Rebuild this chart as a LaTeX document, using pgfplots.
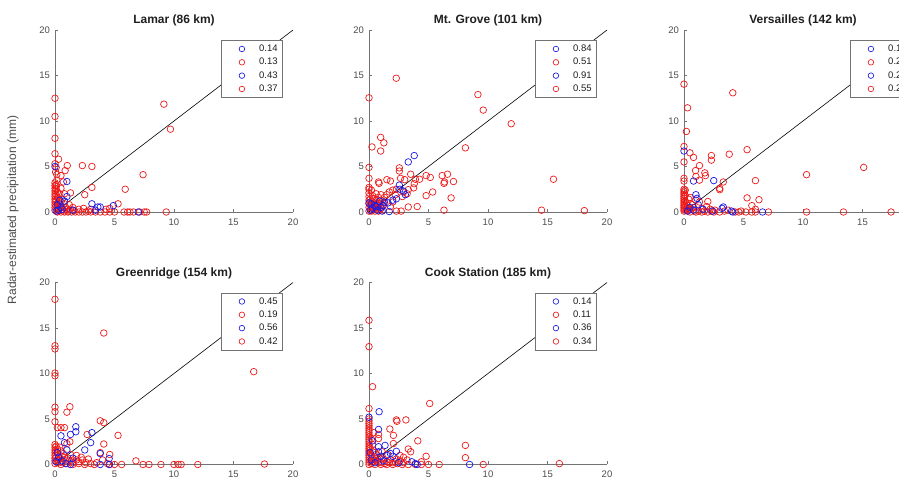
\documentclass[border=0pt]{standalone}
\usepackage{fontspec}
\setmainfont{Liberation Sans}
\usepackage{pgfplots}
\pgfplotsset{compat=1.18}
\definecolor{axgray}{gray}{0.45}
\definecolor{txtgray}{gray}{0.3}
\definecolor{ttl}{gray}{0.12}
\definecolor{mred}{rgb}{0.93,0.1,0.1}
\definecolor{mblue}{rgb}{0.1,0.1,0.9}
\pgfplotsset{
  mat/.style={
    scale only axis, width=238pt, height=182pt,
    anchor=south west,
    xmin=0, xmax=20, ymin=0, ymax=20, enlargelimits=false, clip=false,
    axis x line*=bottom, axis y line*=left,
    axis line style={draw=axgray, line width=0.6pt},
    xtick={0,5,10,15,20}, ytick={0,5,10,15,20},
    tick align=inside, major tick length=3pt,
    every tick/.style={axgray, line width=0.6pt},
    ticklabel style={font=\fontsize{9.5}{11}\selectfont, text=txtgray},
    /pgf/number format/assume math mode=true,
    xticklabel style={yshift=-3pt},
    yticklabel style={xshift=-1.5pt},
    title style={font=\bfseries\fontsize{12}{14}\selectfont, text=ttl, at={(0.5,1)}, anchor=south, yshift=-6pt},
    legend style={at={(0.958,0.945)}, anchor=north east, draw=axgray, line width=0.6pt, fill=white,
      font=\fontsize{9.5}{11}\selectfont, text=ttl, inner xsep=2pt, inner ysep=2pt,
      nodes={inner xsep=3pt, inner ysep=2.6pt, text depth=0.15em}, row sep=0pt, column sep=0pt},
    legend cell align=left,
  },
  rp/.style={only marks, mark=o, mark size=3.3pt, mred, mark options={line width=0.7pt}, forget plot},
  bp/.style={only marks, mark=o, mark size=3.3pt, mblue, mark options={line width=0.7pt}, forget plot},
  oneone/.style={black, line width=0.6pt, forget plot},
  limg/.style={only marks, mark=o, mark size=2.8pt, mark options={line width=0.65pt},
     legend image code/.code={\draw[##1] plot coordinates {(0pt,0pt)}; \path (-18pt,0pt) (14pt,0pt);}},
}
\begin{document}
\begin{tikzpicture}
% ---------------- Lamar
\begin{axis}[mat, at={(55pt,272pt)}, title={Lamar (86 km)}]
\addplot[oneone] coordinates {(0,0) (20,20)};
\addplot[rp] coordinates {(0,12.5)(0,10.5)(0,8.1)(0,6.4)(0.3,5.8)(0,5.3)(0.1,4.9)(0.15,4.1)(0.5,4.0)(0.85,4.55)(1.03,5.1)(2.3,5.1)(3.1,5.0)(3.1,2.7)(2.5,1.9)(1.3,2.1)(9.15,11.85)(9.7,9.1)(7.4,4.1)(5.9,2.5)(5.3,0.9)
(0,3.2)(0,2.9)(0,2.6)(0,2.3)(0,2.0)(0,1.7)(0,1.4)(0,1.1)(0,0.8)(0,0.5)(0,0.2)(0.1,3.0)(0.1,2.5)(0.1,1.9)(0.1,1.3)(0.1,0.7)(0.2,2.2)(0.3,1.5)(0.3,0.9)(0.3,0.3)(0.5,2.6)(0.5,1.1)(0.6,0.5)(0.8,0.9)(1.0,0.3)(1.2,0.8)(0.8,2.0)(1.5,0.5)(2.0,0.3)(2.4,0.4)(3.0,0.3)(4.3,0.3)(4.6,0.4)(0.7,3.3)
(0.2,0)(0.5,0)(0.8,0)(1.1,0)(1.4,0)(1.7,0)(2.0,0)(2.3,0)(2.6,0)(3.0,0)(3.4,0)(3.8,0)(4.2,0)(4.6,0)(5.0,0)(5.8,0)(6.1,0)(6.3,0)(6.6,0)(7.1,0)(7.5,0)(7.7,0)(9.35,0)(1.6,0.15)(2.8,0.1)
(0.2,0.1)(0.4,0.6)(0.5,0.2)(0.7,0.1)(0.9,0.5)(0.2,1.6)(0.4,2.0)(0.1,2.8)(0.2,0.4)(0.6,1.4)(0.3,1.2)(1.1,0.1)(1.3,0.3)(0.15,3.5)(0.05,4.4)};
\addplot[bp] coordinates {(0,5.0)(1.0,3.35)(1.0,1.7)(0.8,1.2)(3.1,0.9)(3.6,0.55)(3.8,0.55)(4.9,0.7)(7.0,0)(0.5,0.5)(0.3,0.2)(0.2,0.8)(0.6,0.3)(1.5,0.2)(0.1,0.1)(0.4,1.3)(3.4,0.2)};
\addlegendimage{limg, mblue}\addlegendentry{0.14}
\addlegendimage{limg, mred}\addlegendentry{0.13}
\addlegendimage{limg, mblue}\addlegendentry{0.43}
\addlegendimage{limg, mred}\addlegendentry{0.37}
\end{axis}
% ---------------- Mt. Grove
\begin{axis}[mat, at={(369pt,272pt)}, title={Mt. Grove (101 km)}]
\addplot[oneone] coordinates {(0,0) (20,20)};
\addplot[rp] coordinates {(0,12.55)(2.29,14.7)(0.25,7.15)(0.98,8.2)(1.25,7.6)(0.98,6.7)(0,4.9)(0,3.7)(0,2.7)(0,2.5)(0,2.1)(0,1.7)(0,1.3)(0,0.9)(0,0.5)(0,0.1)
(0.8,3.3)(0.85,3.15)(1.5,3.55)(1.8,3.4)(2.55,4.85)(2.55,4.5)(2.65,3.7)(3.0,3.55)(3.5,4.15)(3.9,3.6)(3.8,3.1)(4.25,3.6)(4.8,4.0)(5.15,3.8)(4.8,1.8)(5.35,2.2)(6.15,4.0)(6.6,4.15)(6.3,3.15)(6.35,3.3)(7.1,3.35)(6.9,1.55)(8.1,7.05)(9.15,12.9)(9.6,11.2)(11.95,9.7)(15.5,3.6)(14.5,0.2)(18.1,0.15)(6.3,0.2)(4.05,0.6)(3.3,0.55)(2.3,0.1)(2.7,0.1)(3.75,2.65)(3.3,2.45)(2.9,2.2)(3.2,2.0)(2.3,2.5)(2.0,2.4)(1.7,2.2)(1.5,1.9)(2.2,1.9)(2.8,1.7)(1.8,0.6)(2.0,1.1)
(0.2,0.5)(0.4,0.3)(0.5,0.8)(0.7,0.5)(0.9,0.9)(1.0,0.4)(0.3,1.1)(0.6,1.3)(0.8,1.6)(1.1,1.2)(1.2,0.2)(0.5,0.1)(0.8,0.1)(0.3,1.8)(0.6,2.0)(1.0,1.9)(1.3,1.6)(0.2,2.4)(0.4,1.5)(0.1,0.8)(0.15,0.2)
(0.3,0.6)(0.6,0.3)(0.9,0.2)(1.1,0.7)(0.4,0.9)(0.7,1.0)(1.0,1.3)(1.2,1.0)(0.1,1.4)(0.2,0.1)(0.5,0.5)(0.8,0.7)};
\addplot[bp] coordinates {(3.8,6.2)(3.3,5.5)(2.55,2.95)(2.9,2.3)(3.05,1.9)(2.3,1.45)(2.0,1.3)(1.6,1.0)(1.2,0.7)(1.7,0.05)(0.9,1.2)(0,1.0)(0.3,0.4)(0.5,0.7)(0.7,0.2)(1.0,0.5)(0.2,0.9)(1.3,1.1)(0.6,0.6)(2.6,2.5)(0.1,0.2)(1.1,0.1)};
\addlegendimage{limg, mblue}\addlegendentry{0.84}
\addlegendimage{limg, mred}\addlegendentry{0.51}
\addlegendimage{limg, mblue}\addlegendentry{0.91}
\addlegendimage{limg, mred}\addlegendentry{0.55}
\end{axis}
% ---------------- Versailles
\begin{axis}[mat, at={(684pt,272pt)}, title={Versailles (142 km)}]
\addplot[oneone] coordinates {(0,0) (20,20)};
\addplot[rp] coordinates {(0,14.05)(0.3,11.45)(0.2,8.85)(0,7.2)(0,5.5)(0,3.7)(0,3.4)(0,2.5)(0,2.3)(0,2.1)(0,1.9)(0,1.7)(0,1.5)(0,1.3)(0,1.1)(0,0.9)(0,0.7)(0,0.5)(0,0.3)(0,0.1)(0.1,2.4)(0.1,1.8)(0.1,1.2)(0.1,0.6)
(0.5,6.5)(0.8,6.0)(1.3,5.1)(0.97,4.55)(1.75,4.3)(1.8,4.0)(1.0,3.9)(1.3,3.5)(2.3,6.2)(2.3,5.7)(3.8,6.35)(4.1,13.1)(5.3,6.85)(3.3,3.3)(3.0,2.6)(3.0,2.45)(6.0,3.45)(5.3,1.55)(6.3,1.35)(2.0,1.15)(10.3,4.1)(15.1,4.9)
(7.1,0)(10.3,0)(13.4,0)(17.4,0)(5.7,0.7)(6.0,0.3)(5.7,0)(6.0,0)(5.2,0)(4.6,0)(4.3,0)(3.7,0.2)(3.0,0)(2.5,0)(2.0,0)(1.5,0)(1.0,0)(0.5,0)(0.4,0.2)(1.2,0.1)(2.2,0.3)(4.8,0.1)(0.7,0.8)(1.0,1.3)(1.5,0.4)(1.3,1.1)(1.9,0.6)(2.6,0.2)(0.5,1.6)(0.3,0.4)(3.4,0.1)
(0.2,0.2)(0.3,0.7)(0.6,0.3)(0.8,0.5)(0.2,1.0)(0.4,1.4)(0.9,0.1)(1.7,0.1)(2.3,0.1)(0.1,0.2)};
\addplot[bp] coordinates {(0,6.7)(0.8,3.4)(2.5,3.45)(1.0,1.9)(1.1,1.5)(3.3,0.55)(4.1,0)(4.0,0.1)(6.6,0)(2.4,0.1)(0.5,0.5)(0.8,0.2)(1.2,0.8)(0.3,0.1)(1.6,0.3)(3.2,0.4)};
\addlegendimage{limg, mblue}\addlegendentry{0.19}
\addlegendimage{limg, mred}\addlegendentry{0.22}
\addlegendimage{limg, mblue}\addlegendentry{0.29}
\addlegendimage{limg, mred}\addlegendentry{0.27}
\end{axis}
% ---------------- Greenridge
\begin{axis}[mat, at={(55pt,19.5pt)}, title={Greenridge (154 km)}]
\addplot[oneone] coordinates {(0,0) (20,20)};
\addplot[rp] coordinates {(0,18.15)(0,13.05)(0,12.7)(0,10.05)(0,9.75)(0,6.3)(0,5.8)(0,4.7)(0.2,4.05)(0.5,4.05)(0.8,4.05)(1.0,5.75)(1.25,6.35)(1.25,2.5)(1.0,2.3)(0.5,1.5)(3.8,4.8)(4.1,4.6)(4.1,14.45)(5.3,3.2)(2.7,3.3)(4.1,2.25)(3.8,1.3)(4.6,1.1)(16.7,10.2)(17.6,0.05)(12.0,0)(10.6,0)(10.35,0)(10.0,0)(8.9,0)(7.9,0)(7.4,0)(6.8,0.4)(5.6,0)(5.0,0)(4.6,0)(2.3,0.5)
(0,2.2)(0,1.9)(0,1.6)(0,1.3)(0,1.0)(0,0.7)(0,0.4)(0,0.1)(0.1,2.0)(0.1,1.4)(0.1,0.8)(0.3,0.5)(0.6,0.2)(0.8,0.8)(1.2,0.4)(1.5,0.2)(1.8,0.5)(2.0,0.3)(2.6,0.2)(3.0,0.1)(3.5,0.2)(4.0,0.5)(1.3,1.1)(0.7,1.2)(2.2,0.8)(1.0,0.1)(0.4,1.9)(1.8,1.0)(2.8,0.6)(4.4,0.1)(0.5,0)(1.5,0)(2.5,0)(3.3,0)
(0.2,0.2)(0.4,0.7)(0.5,0.3)(0.9,0.4)(0.3,1.1)(0.6,0.9)(1.1,0.7)(0.2,1.7)(1.4,0.4)(2.0,0.1)};
\addplot[bp] coordinates {(1.75,4.15)(1.75,3.6)(1.3,3.3)(0.5,3.15)(3.1,3.5)(3.0,2.4)(2.5,1.6)(3.8,1.2)(4.55,0.65)(3.8,0)(4.55,0)(0.8,2.4)(1.3,0)(0.3,0.8)(0.6,0.4)(1.0,1.6)(0.2,1.3)(1.5,0.7)(0.9,0.1)(0.1,0.3)};
\addlegendimage{limg, mblue}\addlegendentry{0.45}
\addlegendimage{limg, mred}\addlegendentry{0.19}
\addlegendimage{limg, mblue}\addlegendentry{0.56}
\addlegendimage{limg, mred}\addlegendentry{0.42}
\end{axis}
% ---------------- Cook Station
\begin{axis}[mat, at={(369pt,19.5pt)}, title={Cook Station (185 km)}]
\addplot[oneone] coordinates {(0,0) (20,20)};
\addplot[rp] coordinates {(0,15.85)(0,12.95)(0.3,8.55)(0,6.15)(0,5.0)(0,4.75)(0,4.5)(0,4.25)(0,4.0)(0,3.75)(0,3.5)(0,3.25)(0,3.0)(0,2.75)(0,2.5)(0,2.25)(0,2.0)(0,1.75)(0,1.5)(0,1.25)(0,1.0)(0,0.75)(0,0.5)(0,0.25)(0,0)
(0.8,3.3)(0.8,2.85)(1.75,3.9)(2.05,3.2)(2.3,4.9)(2.35,4.75)(3.1,4.9)(2.05,2.3)(4.1,2.6)(3.3,1.7)(3.5,1.4)(5.1,6.7)(4.8,0.9)(8.1,2.1)(8.1,0.75)(9.6,0)(16.0,0.1)(5.9,0)(5.0,0)(4.4,0)(3.9,0)(3.3,0)(2.8,0)(4.4,0.3)
(0.3,0.3)(0.5,0.8)(0.7,0.4)(1.0,0.2)(1.2,0.6)(1.5,0.3)(1.8,0.5)(2.0,0.2)(2.3,0.6)(2.6,0.4)(0.4,1.5)(0.3,2.2)(0.6,1.1)(1.1,1.4)(1.6,1.1)(2.6,1.0)(2.9,0.8)(3.2,0.5)(0.2,2.8)(0.4,3.5)(1.0,0)(1.5,0)(2.0,0)(0.5,0)
(0.2,0.1)(0.4,0.4)(0.6,0.6)(0.8,0.2)(0.9,0.7)(1.3,0.1)(1.7,0.2)(2.2,0.3)(0.2,1.0)(0.5,1.3)(0.1,1.8)(2.4,0.1)(2.9,0.2)};
\addplot[bp] coordinates {(0,5.2)(0.85,5.8)(0.8,3.85)(0.3,2.6)(0.8,1.95)(0.8,1.4)(1.35,2.1)(2.3,1.45)(2.0,0.9)(1.5,1.0)(1.0,0.9)(3.6,0.3)(4.05,0)(8.45,0)(0.2,0.5)(0.5,0.2)(1.2,0.4)(2.5,0.2)(1.8,1.2)(0.1,1.3)(3.9,0.1)};
\addlegendimage{limg, mblue}\addlegendentry{0.14}
\addlegendimage{limg, mred}\addlegendentry{0.11}
\addlegendimage{limg, mblue}\addlegendentry{0.36}
\addlegendimage{limg, mred}\addlegendentry{0.34}
\end{axis}
\node[rotate=90, font=\fontsize{12}{14}\selectfont, text=txtgray] at (13pt,274pt) {Radar-estimated precipitation (mm)};
\pgfresetboundingbox
\useasboundingbox (0pt,0pt) rectangle (899pt,484pt);
\end{tikzpicture}
\end{document}
